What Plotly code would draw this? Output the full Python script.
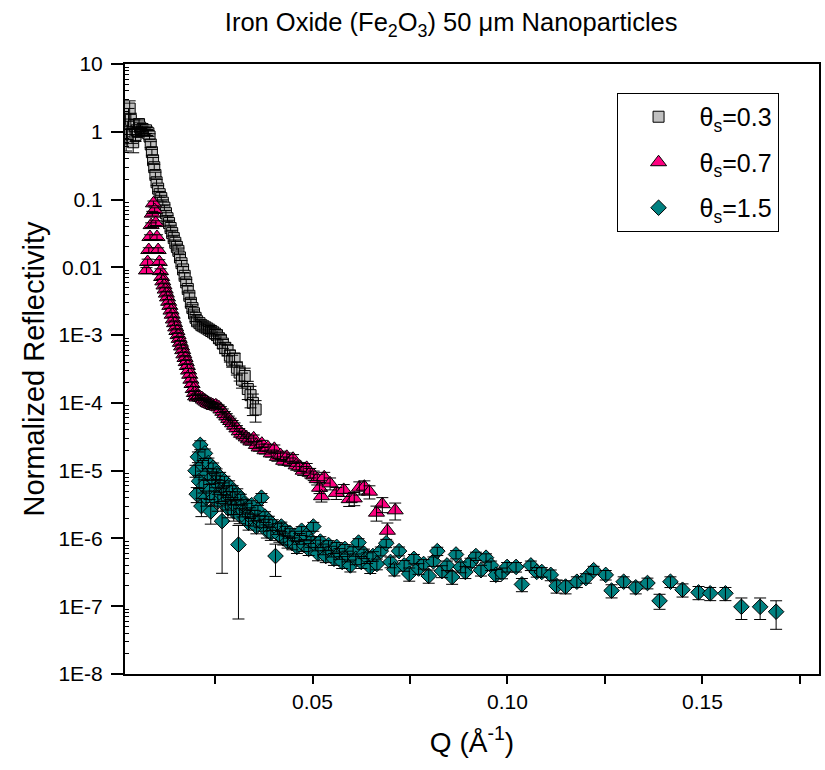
import plotly.graph_objects as go

# ---------------- data ----------------
q_03 = [0.0022, 0.0025, 0.0028, 0.0031, 0.0034, 0.0037, 0.0040, 0.0043, 0.0046, 0.0049,
        0.0052, 0.0055, 0.0058, 0.0061, 0.0064, 0.0067, 0.0070, 0.0073, 0.0076, 0.0079,
        0.0082, 0.0085, 0.0088, 0.0091, 0.0094, 0.0097, 0.0100, 0.0104, 0.0108, 0.0112,
        0.0116, 0.0120, 0.0124, 0.0128, 0.0132, 0.0136, 0.0140, 0.0144, 0.0148, 0.0152,
        0.0156, 0.0160, 0.0164, 0.0168, 0.0172, 0.0176, 0.0180, 0.0184, 0.0188, 0.0192,
        0.0196, 0.0200, 0.0204, 0.0210, 0.0215, 0.0220, 0.0225, 0.0230, 0.0235, 0.0240,
        0.0245, 0.0250, 0.0255, 0.0260, 0.0265, 0.0270, 0.0276, 0.0282, 0.0288, 0.0294,
        0.0300, 0.0306, 0.0313, 0.0319, 0.0326, 0.0334, 0.0341, 0.0347, 0.0354]
r_03 = [0.80, 1.10, 1.70, 2.20, 1.50, 0.90, 0.70, 1.25, 0.90, 1.05,
        1.00, 1.30, 1.15, 1.00, 1.10, 1.05, 1.00, 1.05, 0.98, 0.95,
        0.85, 0.65, 0.50, 0.38, 0.30, 0.23, 0.18, 0.145, 0.12, 0.105,
        0.090, 0.076, 0.063, 0.053, 0.045, 0.038, 0.032, 0.027, 0.023, 0.020,
        0.0175, 0.014, 0.0115, 0.0093, 0.0075, 0.0060, 0.0048, 0.0038, 0.0030, 0.0025,
        0.0021, 0.0018, 0.0016, 0.0015, 0.0014, 0.00135, 0.0013, 0.00125, 0.0012, 0.00115,
        0.0011, 0.00105, 0.0010, 0.0009, 0.00085, 0.00075, 0.00065, 0.0006, 0.0005, 0.00042,
        0.00045, 0.00033, 0.00028, 0.00022, 0.00025, 0.00016, 0.00013, 0.0001, 0.00008]
e_03 = [35, 30, 30, 30, 25, 25, 30, 20, 20, 15,
        15, 15, 12, 12, 10, 10, 10, 10, 10, 10,
        10, 10, 10, 10, 10, 10, 10, 10, 10, 10,
        10, 10, 10, 10, 10, 10, 10, 10, 10, 10,
        10, 10, 10, 10, 10, 10, 10, 10, 12, 12,
        12, 12, 12, 12, 12, 12, 12, 12, 12, 12,
        12, 15, 15, 15, 15, 15, 18, 18, 20, 20,
        20, 22, 25, 25, 30, 30, 35, 35, 35]

q_07 = [0.0074, 0.0077, 0.0080, 0.0083, 0.0086, 0.0089, 0.0092, 0.0095, 0.0098, 0.0101,
        0.0104, 0.0107, 0.0110, 0.0113, 0.0116, 0.0119, 0.0122, 0.0125, 0.0128, 0.0131,
        0.0134, 0.0137, 0.0140, 0.0143, 0.0146, 0.0149, 0.0152, 0.0155, 0.0158, 0.0161,
        0.0164, 0.0167, 0.0170, 0.0173, 0.0176, 0.0179, 0.0182, 0.0185, 0.0188, 0.0191,
        0.0194, 0.0197, 0.0200, 0.0204, 0.0208, 0.0212, 0.0216, 0.0220, 0.0224, 0.0228,
        0.0232, 0.0236, 0.0240, 0.0244, 0.0248, 0.0252, 0.0256, 0.0260, 0.0265, 0.0270,
        0.0275, 0.0280, 0.0285, 0.0290, 0.0295, 0.0300, 0.0306, 0.0312, 0.0318, 0.0324,
        0.0330, 0.0336, 0.0342, 0.0349, 0.0356, 0.0363, 0.0370, 0.0378, 0.0386, 0.0394,
        0.0402, 0.0410, 0.0418, 0.0426, 0.0434, 0.0442, 0.0450, 0.0458, 0.0467, 0.0476,
        0.0485, 0.0494, 0.0503, 0.0512, 0.0518, 0.0523, 0.0530, 0.0545, 0.0561, 0.0580,
        0.0594, 0.0607, 0.0620, 0.0633, 0.0646, 0.0664, 0.0679, 0.0692, 0.0712]
r_07 = [0.009, 0.012, 0.018, 0.028, 0.042, 0.062, 0.088, 0.070, 0.045, 0.028,
        0.018, 0.012, 0.0088, 0.0072, 0.0062, 0.0054, 0.0047, 0.0041, 0.0036, 0.0031,
        0.0027, 0.0023, 0.0020, 0.0017, 0.0015, 0.0013, 0.00115, 0.0010, 0.00088, 0.00077,
        0.00068, 0.00060, 0.00052, 0.00046, 0.00040, 0.00035, 0.00030, 0.00026, 0.00022, 0.00019,
        0.00016, 0.00014, 0.000125, 0.00012, 0.000125, 0.00012, 0.000118, 0.000112, 0.000108, 0.000104,
        0.0001, 0.000097, 0.000095, 0.000093, 0.00009, 0.000092, 0.000088, 0.000086, 0.00008, 0.000074,
        0.000068, 0.000063, 0.000058, 0.000054, 0.00005, 0.000046, 0.000042, 0.000038, 0.000035, 0.000033,
        0.000031, 0.000029, 0.000027, 0.00003, 0.000024, 0.000022, 0.000025, 0.00002, 0.000022, 0.000018,
        0.000021, 0.000016, 0.000017, 0.000014, 0.000016, 0.0000135, 0.000015, 0.000012, 0.0000115, 0.00001,
        0.000011, 0.0000093, 0.0000085, 0.0000075, 0.0000056, 0.0000042, 0.000008, 0.0000065, 0.0000047, 0.0000052,
        0.0000038, 0.0000039, 0.0000056, 0.0000058, 0.0000049, 0.0000024, 0.0000032, 0.0000013, 0.0000026]
e_07 = [10, 10, 8, 8, 8, 8, 8, 8, 8, 8,
        8, 8, 8, 8, 8, 8, 8, 8, 8, 8,
        8, 8, 8, 8, 8, 8, 8, 8, 8, 8,
        8, 8, 8, 8, 8, 8, 8, 8, 8, 8,
        8, 8, 8, 8, 8, 8, 8, 8, 8, 8,
        8, 8, 8, 8, 8, 8, 8, 8, 10, 10,
        10, 10, 10, 10, 10, 10, 10, 10, 10, 10,
        12, 12, 12, 12, 12, 12, 12, 12, 12, 12,
        14, 14, 14, 14, 14, 14, 15, 15, 15, 15,
        16, 16, 16, 18, 18, 18, 18, 20, 20, 20,
        22, 22, 22, 22, 22, 25, 25, 30, 28]

q_15 = [0.0200, 0.0203, 0.0206, 0.0209, 0.0212, 0.0215, 0.0218, 0.0221, 0.0224, 0.0227,
        0.0230, 0.0233, 0.0236, 0.0239, 0.0242, 0.0245, 0.0248, 0.0251, 0.0254, 0.0257,
        0.0260, 0.0263, 0.0266, 0.0268, 0.0271, 0.0274, 0.0277, 0.0280, 0.0283, 0.0286,
        0.0289, 0.0292, 0.0295, 0.0298, 0.0301, 0.0304, 0.0307, 0.0310, 0.0313, 0.0316,
        0.0320, 0.0324, 0.0328, 0.0332, 0.0336, 0.0340, 0.0344, 0.0348, 0.0352, 0.0356,
        0.0360, 0.0365, 0.0369, 0.0374, 0.0378, 0.0383, 0.0388, 0.0393, 0.0398, 0.0405,
        0.0410, 0.0415, 0.0420, 0.0425, 0.0430, 0.0436, 0.0442, 0.0448, 0.0454, 0.0460,
        0.0466, 0.0472, 0.0478, 0.0484, 0.0490, 0.0496, 0.0502, 0.0508, 0.0514, 0.0520,
        0.0527, 0.0534, 0.0541, 0.0548, 0.0555, 0.0562, 0.0569, 0.0576, 0.0583, 0.0590,
        0.0597, 0.0604, 0.0611, 0.0618, 0.0625, 0.0632, 0.0640, 0.0648, 0.0655, 0.0665,
        0.0675, 0.0689, 0.0700, 0.0710, 0.0722, 0.0735, 0.0748, 0.0760, 0.0772, 0.0785,
        0.0798, 0.0810, 0.0820, 0.0832, 0.0845, 0.0858, 0.0868, 0.0880, 0.0892, 0.0905,
        0.0919, 0.0932, 0.0945, 0.0958, 0.0970, 0.0986, 0.0999, 0.1022, 0.1037, 0.1060,
        0.1075, 0.1088, 0.1111, 0.1126, 0.1149, 0.1178, 0.1201, 0.1221, 0.1252, 0.1267,
        0.1298, 0.1329, 0.1359, 0.1390, 0.1418, 0.1449, 0.1490, 0.1520, 0.1559, 0.1600,
        0.1648, 0.1689]
r_15 = [1.0e-5, 4.5e-6, 1.6e-5, 7.0e-6, 2.4e-5, 3.0e-6, 1.2e-5, 6.0e-6, 1.8e-5, 4.0e-6,
        9.0e-6, 1.3e-5, 5.0e-6, 2.5e-6, 8.0e-6, 1.1e-5, 4.0e-6, 7.0e-6, 9.0e-6, 3.5e-6,
        6.0e-6, 8.0e-6, 4.5e-6, 1.8e-6, 5.5e-6, 7.0e-6, 3.5e-6, 5.0e-6, 2.8e-6, 6.0e-6,
        4.0e-6, 3.0e-6, 5.0e-6, 2.5e-6, 4.0e-6, 3.0e-6, 4.5e-6, 8.1e-7, 2.2e-6, 3.8e-6,
        2.6e-6, 3.2e-6, 2.0e-6, 2.8e-6, 1.7e-6, 2.4e-6, 3.1e-6, 1.9e-6, 2.2e-6, 1.5e-6,
        2.6e-6, 1.8e-6, 4.0e-6, 1.6e-6, 2.1e-6, 1.3e-6, 1.8e-6, 1.2e-6, 1.6e-6, 5.5e-7,
        1.4e-6, 1.1e-6, 1.5e-6, 1.0e-6, 1.3e-6, 9.0e-7, 1.2e-6, 8.5e-7, 1.1e-6, 7.5e-7,
        1.0e-6, 1.3e-6, 8.0e-7, 1.1e-6, 7.0e-7, 9.0e-7, 1.5e-6, 8.0e-7, 6.0e-7, 9.0e-7,
        7.0e-7, 5.5e-7, 8.0e-7, 6.5e-7, 5.0e-7, 7.5e-7, 6.0e-7, 4.5e-7, 7.0e-7, 5.5e-7,
        4.0e-7, 6.5e-7, 5.0e-7, 8.7e-7, 4.5e-7, 6.0e-7, 5.2e-7, 3.8e-7, 5.5e-7, 4.2e-7,
        6.5e-7, 8.5e-7, 4.5e-7, 3.5e-7, 6.5e-7, 4.0e-7, 3.0e-7, 5.0e-7, 3.6e-7, 4.2e-7,
        2.8e-7, 4.6e-7, 6.5e-7, 3.3e-7, 4.0e-7, 2.7e-7, 5.8e-7, 3.8e-7, 3.2e-7, 4.4e-7,
        5.5e-7, 3.4e-7, 5.2e-7, 4.0e-7, 2.9e-7, 3.1e-7, 3.8e-7, 3.8e-7, 2.1e-7, 4.0e-7,
        3.2e-7, 3.2e-7, 2.9e-7, 2.0e-7, 1.95e-7, 2.3e-7, 2.6e-7, 3.4e-7, 2.9e-7, 1.7e-7,
        2.3e-7, 1.9e-7, 2.2e-7, 1.2e-7, 2.3e-7, 1.75e-7, 1.6e-7, 1.55e-7, 1.55e-7, 9.8e-8,
        9.8e-8, 8.3e-8]
e_15 = [20, 25, 18, 22, 15, 30, 18, 22, 16, 25,
        20, 18, 25, 35, 20, 18, 25, 20, 18, 28,
        20, 18, 22, 83, 20, 18, 25, 20, 28, 18,
        22, 25, 20, 28, 22, 25, 20, 92, 25, 18,
        20, 18, 22, 18, 22, 18, 16, 20, 18, 22,
        18, 20, 15, 20, 18, 22, 18, 22, 18, 50,
        18, 20, 16, 20, 16, 20, 16, 20, 16, 20,
        18, 15, 20, 16, 20, 18, 15, 18, 22, 18,
        18, 20, 16, 18, 20, 16, 18, 20, 16, 18,
        20, 16, 18, 14, 20, 16, 18, 20, 16, 18,
        15, 14, 18, 20, 15, 18, 22, 16, 18, 16,
        22, 16, 14, 20, 16, 22, 14, 18, 20, 16,
        14, 18, 14, 16, 20, 18, 16, 16, 22, 16,
        16, 16, 18, 22, 22, 18, 16, 14, 16, 22,
        18, 20, 18, 25, 18, 22, 22, 22, 22, 35,
        35, 45]

labels = ["θ<sub>s</sub>=0.3", "θ<sub>s</sub>=0.7", "θ<sub>s</sub>=1.5"]
y_tick_vals = [10, 1, 0.1, 0.01, 1e-3, 1e-4, 1e-5, 1e-6, 1e-7, 1e-8]
y_tick_text = ["10", "1", "0.1", "0.01", "1E-3", "1E-4", "1E-5", "1E-6", "1E-7", "1E-8"]
x_tick_vals = [0.025, 0.05, 0.075, 0.10, 0.125, 0.15, 0.175]
x_tick_text = [" ", "0.05", " ", "0.10", " ", "0.15", " "]

# ---------------- figure ----------------
FONT = "Liberation Sans, Arial, sans-serif"
series = [
    (q_03, r_03, e_03, labels[0], "square", "#c0c0c0", 11),
    (q_07, r_07, e_07, labels[1], "triangle-up", "#ff0080", 14),
    (q_15, r_15, e_15, labels[2], "diamond", "#008080", 12),
]

fig = go.Figure()
for i, (q, r, e, name, sym, col, sz) in enumerate(series):
    err = [v * p / 100.0 for v, p in zip(r, e)]
    fig.add_trace(go.Scatter(
        x=q, y=r, mode="markers", name=name, legendgroup=name,
        marker=dict(symbol=sym, color=col, size=sz, line=dict(color="black", width=1)),
    ))
    fig.add_trace(go.Scatter(
        x=q, y=r, mode="markers", showlegend=False, legendgroup=name, hoverinfo="skip",
        marker=dict(size=1, opacity=0),
        error_y=dict(type="data", array=err, color="black", thickness=1, width=6),
    ))

minor_vals = [k * 10.0 ** d for d in range(-8, 1) for k in range(2, 10)]

fig.update_layout(
    width=825, height=770,
    margin=dict(l=125, r=4, t=64, b=96),
    paper_bgcolor="white", plot_bgcolor="white",
    font=dict(family=FONT, color="black", size=21),
    title=dict(text="Iron Oxide (Fe<sub>2</sub>O<sub>3</sub>) 50 μm Nanoparticles",
               x=0.47, xref="paper", xanchor="center", y=0.971, yref="container", yanchor="middle",
               font=dict(size=25.5, family=FONT)),
    showlegend=True,
    legend=dict(x=0.7083, y=0.9525, xanchor="left", yanchor="top",
                bordercolor="black", borderwidth=1, bgcolor="white",
                font=dict(size=25, family=FONT), tracegroupgap=10, itemwidth=72,
                traceorder="grouped"),
    xaxis=dict(range=[0.0019, 0.1799], tickmode="array", tickvals=x_tick_vals, ticktext=x_tick_text,
               ticks="outside", ticklen=8, tickwidth=2, tickcolor="black",
               showline=True, linewidth=2, linecolor="black", mirror=True,
               showgrid=False, zeroline=False, tickfont=dict(size=21),
               title=dict(text="Q (Å<sup>-1</sup>)", font=dict(size=28), standoff=20)),
    yaxis=dict(type="log", range=[-8, 1], tickmode="array", tickvals=y_tick_vals, ticktext=y_tick_text,
               ticks="outside", ticklen=12, tickwidth=2, tickcolor="black",
               showline=True, linewidth=2, linecolor="black", mirror=True,
               showgrid=False, zeroline=False, tickfont=dict(size=21), ticklabelstandoff=4,
               minor=dict(tickmode="array", tickvals=minor_vals, ticks="inside", ticklen=4,
                          tickwidth=1, tickcolor="black", showgrid=False),
               title=dict(text="Normalized Reflectivity", font=dict(size=29), standoff=5)),
)

fig.write_html("out.html")
